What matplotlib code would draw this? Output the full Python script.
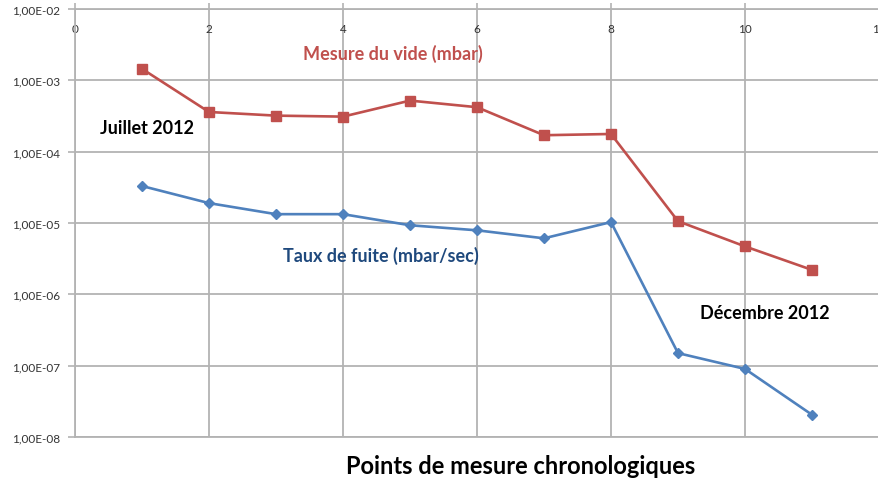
import matplotlib
matplotlib.use("Agg")
import matplotlib.pyplot as plt
from matplotlib.ticker import FixedLocator, FuncFormatter, NullLocator

plt.rcParams['font.family'] = ['Lato', 'DejaVu Sans']

points = [1, 2, 3, 4, 5, 6, 7, 8, 9, 10, 11]
vide_mbar = [1.45e-3, 3.6e-4, 3.2e-4, 3.1e-4, 5.2e-4, 4.2e-4, 1.7e-4, 1.77e-4, 1.06e-5, 4.7e-6, 2.2e-6]
fuite_mbar_sec = [3.3e-5, 1.9e-5, 1.33e-5, 1.33e-5, 9.3e-6, 7.9e-6, 6.1e-6, 1.03e-5, 1.5e-7, 9.0e-8, 2.05e-8]
x_ticks = [0, 2, 4, 6, 8, 10, 12]
y_ticks = [1e-8, 1e-7, 1e-6, 1e-5, 1e-4, 1e-3, 1e-2]

red = '#C0504D'
blue = '#4F81BD'
grid_c = '#B3B3B3'

fig = plt.figure(figsize=(8.79, 4.81), dpi=100)
ax = fig.add_axes([75/879, 1-438/481, 1-75/879, 428/481])
ax.set_yscale('log')
ax.set_xlim(0, 12)
ax.set_ylim(1e-8, 1e-2)

ax.plot(points, vide_mbar, color=red, lw=1.9, marker='s', ms=7, zorder=3)
ax.plot(points, fuite_mbar_sec, color=blue, lw=1.9, marker='D', ms=5, zorder=3)

ax.xaxis.set_major_locator(FixedLocator(x_ticks))
ax.yaxis.set_major_locator(FixedLocator(y_ticks))
ax.yaxis.set_minor_locator(NullLocator())
ax.xaxis.set_minor_locator(NullLocator())

def yfmt(v, pos):
    s = f"{v:.2E}"
    mant, exp = s.split('E')
    return mant.replace('.', ',') + 'E' + exp[0] + exp[1:].zfill(2)
ax.yaxis.set_major_formatter(FuncFormatter(yfmt))

ax.tick_params(axis='x', top=True, labeltop=True, bottom=False, labelbottom=False,
               direction='out', length=4, width=1.2, color=grid_c, pad=-22,
               labelsize=8.5, labelcolor='#333333')
ax.tick_params(axis='y', direction='out', length=5, width=1.2, color=grid_c,
               labelsize=8.5, labelcolor='#333333', pad=6)

ax.grid(True, color=grid_c, lw=1.3)
for sp in ax.spines.values():
    sp.set_color(grid_c)
    sp.set_linewidth(1.3)

ax.text(4.75, 2.4e-3, 'Mesure du vide (mbar)', color=red, fontsize=13,
        fontweight='bold', ha='center', va='center')
ax.text(4.57, 3.55e-6, 'Taux de fuite (mbar/sec)', color='#1F497D', fontsize=13,
        fontweight='bold', ha='center', va='center')
ax.text(1.07, 2.2e-4, 'Juillet 2012', color='black', fontsize=13,
        fontweight='bold', ha='center', va='center')
ax.text(10.3, 5.6e-7, 'Décembre 2012', color='black', fontsize=13,
        fontweight='bold', ha='center', va='center')

fig.text(521/879, 1-466/481, 'Points de mesure chronologiques', color='black',
         fontsize=17, fontweight='bold', ha='center', va='center')

fig.savefig('out.png', dpi=100)
